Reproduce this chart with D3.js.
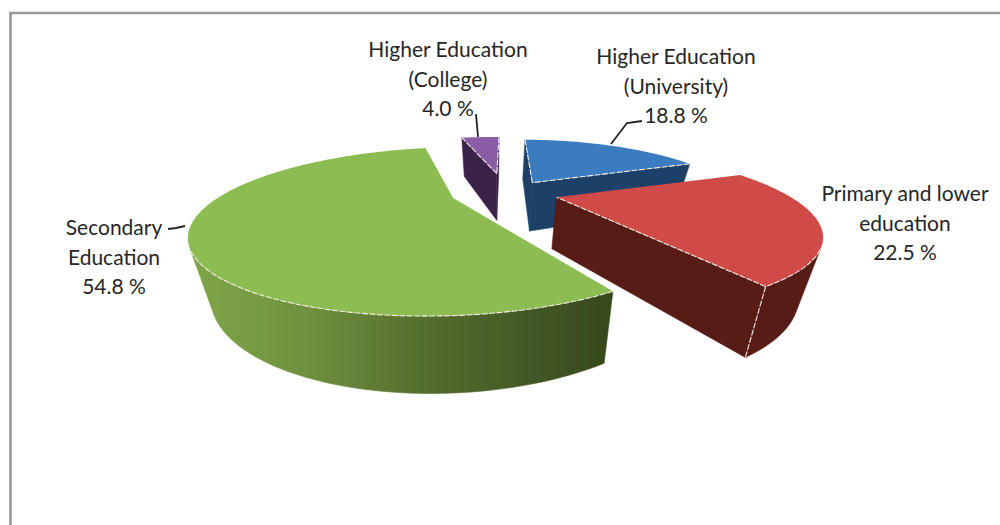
<!DOCTYPE html>
<html><head><meta charset="utf-8">
<script src="https://cdn.jsdelivr.net/npm/d3@7/dist/d3.min.js"></script>
<style>html,body{margin:0;background:#fff}svg{display:block}text{font-family:Lato,"Open Sans",sans-serif;fill:#262626}</style>
</head><body><svg id="c" width="1000" height="525"></svg>
<script>
const categories=["Higher Education (University)","Primary and lower education","Secondary Education","Higher Education (College)"];
const shares=[18.8,22.5,54.8,4.0];
const labelLines=[["Higher Education","(University)","18.8 %"],["Primary and lower","education","22.5 %"],["Secondary","Education","54.8 %"],["Higher Education","(College)","4.0 %"]];
const topColors=["#3B7CC0","#D04B47","#8DBC52","#8A5BA6"];
const wallColors=["#1B3F68","#591B18","url(#gw)","#3A2448"];
const radiiX=[205,225,225,215];
const radiiY=[240,240,245,222];
const shiftX=[39,59,-40,2];
const shiftY=[-29,26,29,-68];
const drawOrder=[3,0,2,1];
const labelX=[676,905,114,448];
const labelY=[64,201,235,57];
const leaders=[[[611,144],[627,123],[642,121]],[],[[168,229],[176,228],[185,226]],[[476,114],[478,137]]];

const cx=495,cy=190,k=.265,d=646,h=50,f=.925;
const svg=d3.select("#c");
const defs=svg.append("defs");
const g=defs.append("linearGradient").attr("id","gw").attr("gradientUnits","userSpaceOnUse").attr("x1",190).attr("x2",605).attr("y1",0).attr("y2",0);
[[0,"#7FA648"],[.3,"#6E8F3E"],[.55,"#566F2E"],[.8,"#445A26"],[1,"#38491E"]].forEach(s=>g.append("stop").attr("offset",s[0]).attr("stop-color",s[1]));
defs.append("filter").attr("id","soft").append("feGaussianBlur").attr("stdDeviation",.45);

svg.append("path").attr("d","M10.5 525V13H1000").attr("fill","none").attr("stroke","#9a9a9a").attr("stroke-width",2.6);

const project=(X,Y,bottom)=>{const s=1/(1-Y/d);
  return bottom?[cx+X*s*f,cy+k*Y*s*f+h*s]:[cx+X*s,cy+k*Y*s];};
const arcs=d3.pie().sort(null).startAngle(Math.PI/180).endAngle(Math.PI/180+2*Math.PI)(shares);
const line=d3.line();
const closed=p=>line(p)+"Z";
const vis=p=>d3.polygonArea(p)>0;
const pie=svg.append("g").attr("filter","url(#soft)");
drawOrder.forEach(i=>{
  const a=arcs[i],Rx=radiiX[i],Ry=radiiY[i],ox=shiftX[i],oy=shiftY[i];
  const rim=(t,b)=>project(ox+Rx*Math.sin(t),oy-Ry*Math.cos(t),b);
  const apexT=project(ox,oy,false),apexB=project(ox,oy,true);
  const n=Math.max(8,Math.round((a.endAngle-a.startAngle)*60));
  const ang=d3.scaleLinear().domain([0,n]).range([a.startAngle,a.endAngle]);
  const ts=d3.range(n+1).map(ang);
  const g0=pie.append("g");
  const wall=p=>g0.append("path").attr("d",closed(p)).attr("fill",wallColors[i]).attr("stroke",wallColors[i]).attr("stroke-width",.6);
  const edge=p=>g0.append("path").attr("d",line(p)).attr("stroke","#f3efe6").attr("stroke-width",1.1).attr("stroke-dasharray","6 1.5").attr("fill","none");
  const startFace=[apexT,rim(ts[0]),rim(ts[0],true),apexB];
  const endFace=[rim(ts[n]),apexT,apexB,rim(ts[n],true)];
  if(vis(startFace)) wall(startFace);
  if(vis(endFace)) wall(endFace);
  const shown=d3.pairs(ts).filter(([t1,t2])=>vis([rim(t1),rim(t2),rim(t2,true),rim(t1,true)]));
  let outer=[];
  if(shown.length){
    const vs=[shown[0][0],...shown.map(q=>q[1])];
    outer=vs.map(t=>rim(t));
    wall([...outer,...vs.slice().reverse().map(t=>rim(t,true))]);
  }
  g0.append("path").attr("d",closed([apexT,...ts.map(t=>rim(t))])).attr("fill",topColors[i]);
  if(vis(startFace)) edge([apexT,rim(ts[0])]);
  if(vis(endFace)) edge([rim(ts[n]),apexT]);
  if(outer.length) edge(outer);
  if(i===1) edge([rim(ts[n]),rim(ts[n],true)]);
});
labelLines.forEach((ls,i)=>{
  const t=svg.append("text").attr("text-anchor","middle").attr("font-size",21);
  ls.forEach((s,j)=>t.append("tspan").attr("x",labelX[i]).attr("y",labelY[i]+j*29.5).text(s));
  if(leaders[i].length) svg.append("path").attr("d",line(leaders[i])).attr("fill","none").attr("stroke","#222").attr("stroke-width",1.8);
});
</script></body></html>
